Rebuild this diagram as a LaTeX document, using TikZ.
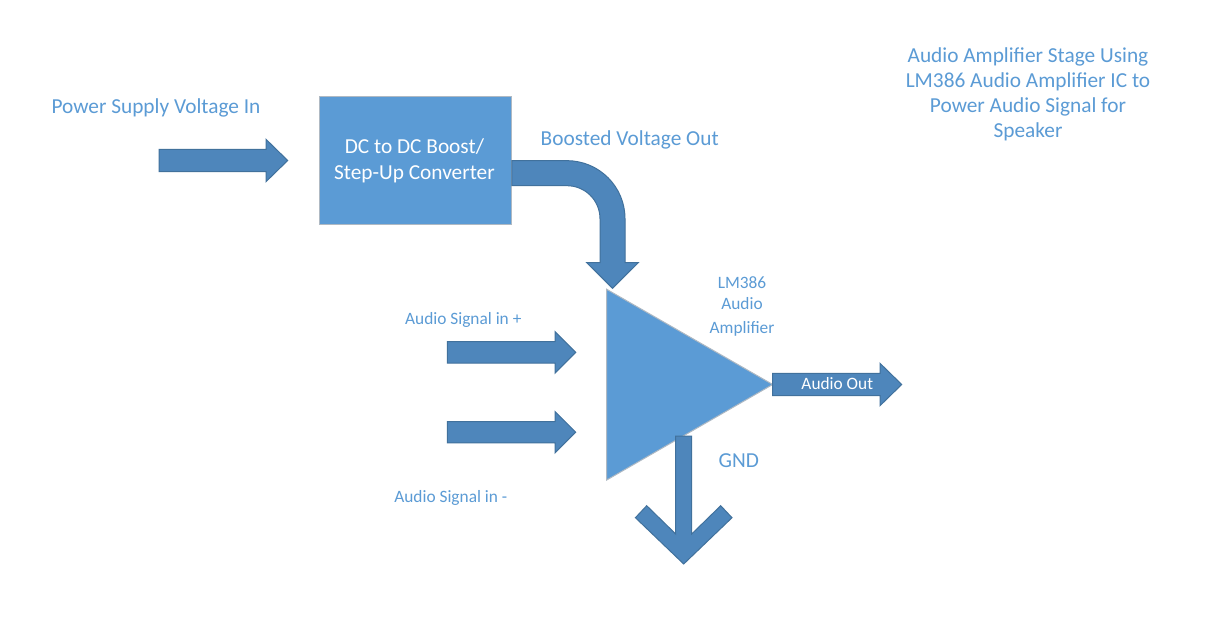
\documentclass[tikz,border=0pt]{standalone}
\usepackage{fontspec}
\setmainfont{Carlito}
\usepackage{tikz}
\definecolor{textblue}{RGB}{91,155,213}
\definecolor{boxblue}{RGB}{91,155,213}
\definecolor{arrowblue}{RGB}{78,134,187}
\definecolor{arrowedge}{RGB}{65,113,156}
\definecolor{boxedge}{RGB}{175,185,195}

\begin{document}
\begin{tikzpicture}[
    x=0.75pt, y=-0.75pt,
    % 定义样式
    bigarrow/.style={fill=arrowblue, draw=arrowedge, line width=0.75pt, line join=miter},
    convbox/.style={rectangle, fill=boxblue, draw=boxedge, line width=0.75pt, inner sep=0pt, minimum width=144pt, minimum height=96.2pt},
    amptri/.style={fill=boxblue, draw=boxedge, line width=0.75pt},
    biglabel/.style={text=textblue, inner sep=0pt, anchor=base, font=\fontsize{16}{18.8}\selectfont},
    smalllabel/.style={text=textblue, inner sep=0pt, anchor=base, font=\fontsize{13}{15.75}\selectfont}
]
    \fill [white] (0,0) rectangle (1206,634);
    \useasboundingbox (0,0) rectangle (1206,634);

    % 标题
    \node [biglabel, align=center] (title) at (1028,137.7) {Audio Amplifier Stage Using\\LM386 Audio Amplifier IC to\\Power Audio Signal for\\Speaker};

    % 升压模块
    \node [convbox] (conv) at (415.3,160.2) {};
    \node [biglabel, text=white, align=center, font=\fontsize{16}{19}\selectfont] (convlabel) at (414.4,179.3) {DC to DC Boost/\\Step-Up Converter};
    \node [biglabel] (pwrlabel) at (156,113.3) {Power Supply Voltage In};
    \node [biglabel] (boostlabel) at (629.7,145.7) {Boosted Voltage Out};

    % 电源输入箭头
    \draw [bigarrow] (159,149.3) -- (266,149.3) -- (266,139.3) -- (287.7,160.5) -- (266,181.7) -- (266,171.7) -- (159,171.7) -- cycle;

    % 弯箭头
    \draw [bigarrow] (conv.east |- 0,160.7) -- (567,160.7) arc [start angle=-90, end angle=0, radius=58] -- (625,262.7) -- (638.3,262.7) -- (612.5,288.3) -- (586.7,262.7) -- (600,262.7) -- (600,218.7) arc [start angle=0, end angle=-90, radius=33] -- (conv.east |- 0,185.7) -- cycle;

    % 放大器三角形
    \coordinate (amptop) at (606.7,289.3);
    \coordinate (ampbot) at (606.7,480);
    \coordinate (ampout) at (772.7,384.5);
    \draw [amptri] (amptop) -- (ampout) -- (ampbot) -- cycle;
    \node [smalllabel, align=center] (amplabel) at (742,334) {LM386\\Audio\\[2.8pt]Amplifier};

    % 输入箭头
    \draw [bigarrow] (447.3,341.7) -- (555,341.7) -- (555,331.7) -- (575.7,352.4) -- (555,373.1) -- (555,363.1) -- (447.3,363.1) -- cycle;
    \node [smalllabel] (pluslabel) at (463.3,325) {Audio Signal in +};
    \draw [bigarrow] (447.3,421.5) -- (555,421.5) -- (555,411.5) -- (575.7,432.2) -- (555,452.9) -- (555,442.9) -- (447.3,442.9) -- cycle;
    \node [smalllabel] (minuslabel) at (450.8,502.7) {Audio Signal in -};

    % 输出箭头
    \draw [bigarrow] (ampout |- 0,373.3) -- (880,373.3) -- (880,363.3) -- (901.7,384.5) -- (880,405.7) -- (880,395.7) -- (ampout |- 0,395.7) -- cycle;
    \node [smalllabel, text=white] (outlabel) at (837.3,389) {Audio Out};

    % 接地箭头
    \draw [bigarrow] (675.7,436) -- (691.7,436) -- (691.7,534) -- (720.7,505.7) -- (732,517.7) -- (683.7,564) -- (635.4,517.7) -- (646.7,505.7) -- (675.7,534) -- cycle;
    \node [biglabel] (gndlabel) at (738.8,467.7) {GND};
\end{tikzpicture}
\end{document}
